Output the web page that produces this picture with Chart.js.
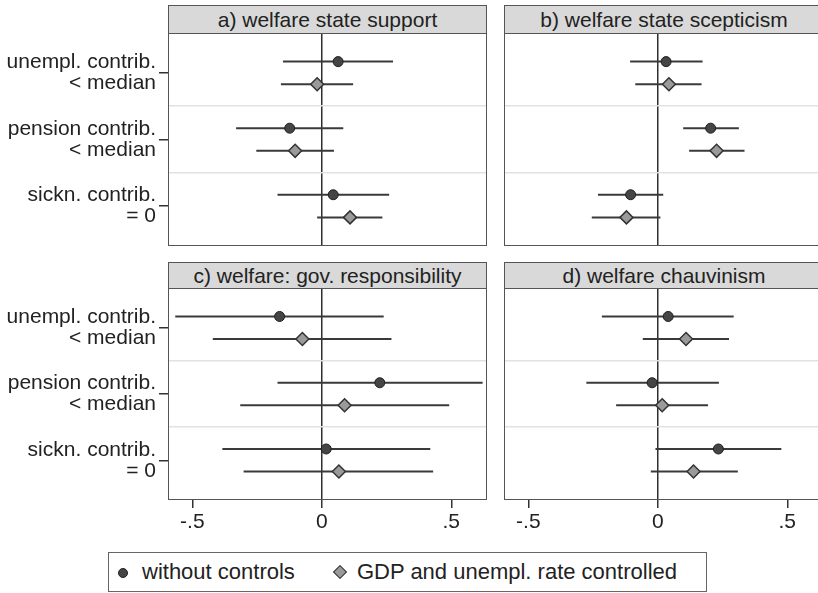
<!DOCTYPE html>
<html>
<head>
<meta charset="utf-8">
<script src="https://cdn.jsdelivr.net/npm/chart.js@4.4.1/dist/chart.umd.min.js"></script>
<style>
  html, body { margin: 0; padding: 0; background: #fff; overflow: hidden; }
  #wrap { position: relative; width: 818px; height: 593px; overflow: hidden;
          font-family: 'Liberation Sans', Arial, sans-serif; color: #222; }
  .hdr { position: absolute; box-sizing: border-box; background: #d9d9d9; border: 1px solid #555;
         text-align: center; font-size: 21px; white-space: nowrap; }
  canvas { position: absolute; }
  #legend { position: absolute; left: 108px; top: 552px; width: 599px; height: 40px;
            box-sizing: border-box; border: 1px solid #666; font-size: 22px; }
  #legend span { position: absolute; white-space: nowrap; }
  .lg-dot { left: 9px; top: 15px; width: 10px; height: 10px; border-radius: 50%;
            background: #454545; border: 1px solid #222; box-sizing: border-box; }
  .lg-dia { left: 226px; top: 14px; width: 10px; height: 10px; transform: rotate(45deg);
            background: #9a9a9a; border: 1.5px solid #333; box-sizing: border-box; }
  .lg-txt { top: 7px; line-height: 24px; }
</style>
</head>
<body>
<div id="wrap">
  <div class="hdr" style="left:168px;top:5px;width:319px;height:29px;line-height:27px;">a) welfare state support</div>
  <div class="hdr" style="left:504px;top:5px;width:320px;height:29px;line-height:27px;">b) welfare state scepticism</div>
  <div class="hdr" style="left:168px;top:262px;width:319px;height:27px;line-height:25px;">c) welfare: gov. responsibility</div>
  <div class="hdr" style="left:504px;top:262px;width:320px;height:27px;line-height:25px;">d) welfare chauvinism</div>

  <canvas id="pa" width="488" height="213" style="left:0;top:33px;"></canvas>
  <canvas id="pb" width="334" height="213" style="left:490px;top:33px;"></canvas>
  <canvas id="pc" width="488" height="250" style="left:0;top:288px;"></canvas>
  <canvas id="pd" width="334" height="250" style="left:490px;top:288px;"></canvas>

  <div id="legend">
    <span class="lg-dot"></span><span class="lg-txt" style="left:33px;">without controls</span>
    <span class="lg-dia"></span><span class="lg-txt" style="left:248px;">GDP and unempl. rate controlled</span>
  </div>
</div>

<script>
  // rows: unempl., pension, sickn. -- each entry [lower, estimate, upper]
  var ROW_LABELS = [['unempl. contrib.', '< median'], ['pension contrib.', '< median'], ['sickn. contrib.', '= 0']];
  var ROW_POS = [1, 2, 3];
  var X_TICKS = [-0.5, 0, 0.5];
  var X_MIN = -0.594, X_MAX = 0.638;

  var supportPlain = [[-0.150, 0.063, 0.275], [-0.331, -0.124, 0.083], [-0.171, 0.044, 0.260]];
  var supportCtrl = [[-0.158, -0.018, 0.121], [-0.253, -0.103, 0.047], [-0.018, 0.109, 0.234]];
  var scepticPlain = [[-0.107, 0.032, 0.173], [0.098, 0.204, 0.313], [-0.231, -0.105, 0.021]];
  var scepticCtrl = [[-0.087, 0.043, 0.169], [0.121, 0.227, 0.335], [-0.255, -0.121, 0.010]];
  var govPlain = [[-0.566, -0.163, 0.239], [-0.171, 0.224, 0.621], [-0.384, 0.017, 0.419]];
  var govCtrl = [[-0.421, -0.075, 0.269], [-0.315, 0.088, 0.492], [-0.302, 0.066, 0.430]];
  var chauvPlain = [[-0.216, 0.040, 0.293], [-0.276, -0.022, 0.236], [-0.009, 0.234, 0.477]];
  var chauvCtrl = [[-0.058, 0.109, 0.275], [-0.161, 0.017, 0.194], [-0.027, 0.138, 0.309]];

  var OFFSET = 0.17;
  var FONT = { family: "'Liberation Sans', Arial, sans-serif", size: 21, lineHeight: 1.0 };

  var framePlugin = {
    id: 'frame',
    afterDraw: function (chart) {
      var a = chart.chartArea, c = chart.ctx;
      c.save();
      c.strokeStyle = '#555';
      c.lineWidth = 1;
      c.strokeRect(a.left + 0.5, a.top + 0.5, a.right - a.left - 1, a.bottom - a.top - 1);
      c.restore();
    }
  };

  function noPad(s) {
    s.paddingTop = 0; s.paddingBottom = 0; s.paddingLeft = 0; s.paddingRight = 0;
  }

  function buildDatasets(plain, ctrl) {
    var ds = [];
    [plain, ctrl].forEach(function (rows, s) {
      var off = s === 0 ? -OFFSET : OFFSET;
      rows.forEach(function (r, i) {
        ds.push({
          type: 'line',
          data: [{ x: r[0], y: ROW_POS[i] + off }, { x: r[2], y: ROW_POS[i] + off }],
          borderColor: '#3a3a3a', borderWidth: 2, pointRadius: 0, order: 3
        });
      });
    });
    ds.push({
      type: 'scatter',
      data: plain.map(function (r, i) { return { x: r[1], y: ROW_POS[i] - OFFSET }; }),
      pointStyle: 'circle', pointRadius: 5, backgroundColor: '#454545',
      borderColor: '#1e1e1e', borderWidth: 1, order: 1
    });
    ds.push({
      type: 'scatter',
      data: ctrl.map(function (r, i) { return { x: r[1], y: ROW_POS[i] + OFFSET }; }),
      pointStyle: 'rectRot', pointRadius: 6.5, backgroundColor: '#9a9a9a',
      borderColor: '#333', borderWidth: 1.5, order: 1
    });
    return ds;
  }

  function makePanel(id, plain, ctrl, leftCol, bottomRow) {
    new Chart(document.getElementById(id), {
      type: 'scatter',
      data: { datasets: buildDatasets(plain, ctrl) },
      options: {
        responsive: false,
        devicePixelRatio: 1,
        animation: false,
        layout: { autoPadding: false, padding: { right: 1, top: 0, bottom: 0, left: 0 } },
        plugins: { legend: { display: false }, tooltip: { enabled: false } },
        scales: {
          x: {
            type: 'linear', min: X_MIN, max: X_MAX,
            afterBuildTicks: function (s) { s.ticks = X_TICKS.map(function (v) { return { value: v }; }); },
            afterFit: function (s) { s.height = bottomRow ? 38 : 0; noPad(s); },
            border: { display: false },
            grid: {
              color: function (c) { return c.tick && c.tick.value === 0 ? '#2e2e2e' : 'rgba(0,0,0,0)'; },
              lineWidth: 1.5,
              drawTicks: bottomRow, tickLength: 8, tickColor: '#333', tickWidth: 1.5
            },
            ticks: {
              display: bottomRow, color: '#222', font: FONT, padding: 4, maxRotation: 0,
              callback: function (v) { return v === 0 ? '0' : String(v).replace('0.', '.'); }
            }
          },
          y: {
            type: 'linear', min: 0.4, max: 3.6, reverse: true,
            afterBuildTicks: function (s) {
              s.ticks = [1, 1.5, 2, 2.5, 3].map(function (v) { return { value: v }; });
            },
            afterFit: function (s) { s.width = leftCol ? 168 : 14; noPad(s); },
            border: { display: false },
            grid: {
              color: function (c) { return c.tick && c.tick.value % 1 ? '#e2e2e2' : 'rgba(0,0,0,0)'; },
              lineWidth: 1.5,
              drawTicks: leftCol, tickLength: 9,
              tickColor: function (c) { return c.tick && c.tick.value % 1 ? 'rgba(0,0,0,0)' : '#333'; }
            },
            ticks: {
              display: leftCol, color: '#222', font: FONT, padding: 3, autoSkip: false,
              callback: function (v) { return v % 1 ? '' : ROW_LABELS[v - 1]; }
            }
          }
        }
      },
      plugins: [framePlugin]
    });
  }

  makePanel('pa', supportPlain, supportCtrl, true, false);
  makePanel('pb', scepticPlain, scepticCtrl, false, false);
  makePanel('pc', govPlain, govCtrl, true, true);
  makePanel('pd', chauvPlain, chauvCtrl, false, true);
</script>
</body>
</html>
